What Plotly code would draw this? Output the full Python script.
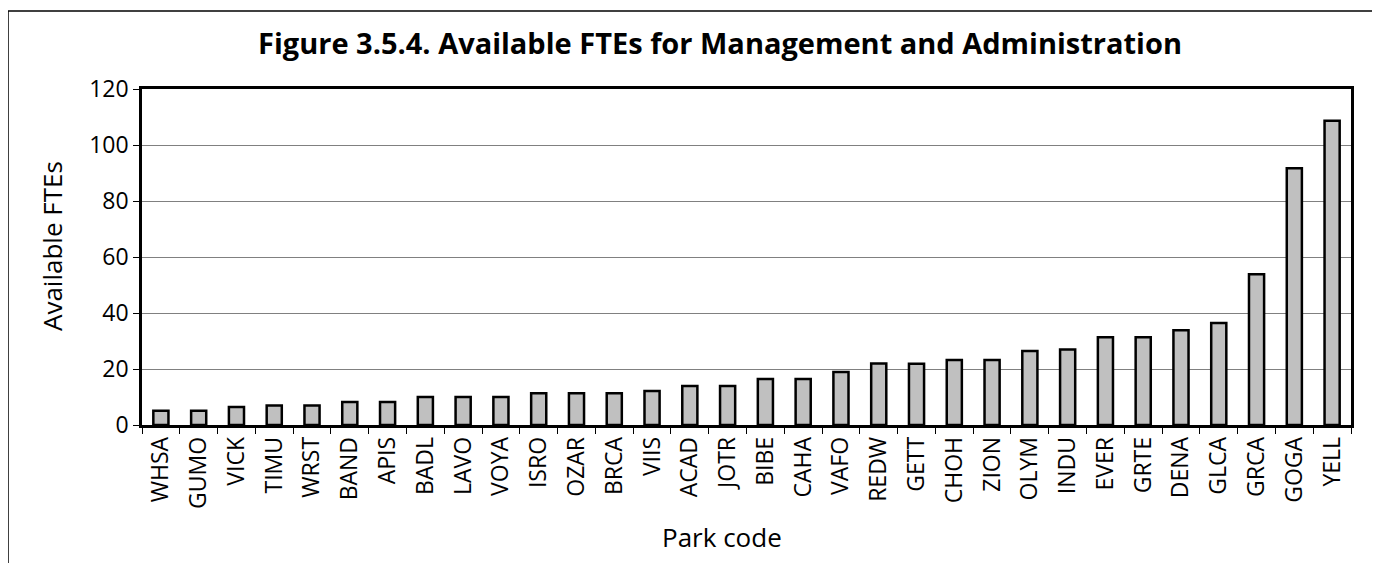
import plotly.graph_objects as go

parks = ['WHSA', 'GUMO', 'VICK', 'TIMU', 'WRST', 'BAND', 'APIS', 'BADL', 'LAVO', 'VOYA',
         'ISRO', 'OZAR', 'BRCA', 'VIIS', 'ACAD', 'JOTR', 'BIBE', 'CAHA', 'VAFO', 'REDW',
         'GETT', 'CHOH', 'ZION', 'OLYM', 'INDU', 'EVER', 'GRTE', 'DENA', 'GLCA', 'GRCA',
         'GOGA', 'YELL']
ftes = [5.1, 5.1, 6.4, 7.0, 7.0, 8.2, 8.2, 10.0, 10.0, 10.0,
        11.3, 11.3, 11.3, 12.1, 13.9, 13.9, 16.4, 16.4, 18.9, 22.0,
        21.9, 23.2, 23.2, 26.4, 27.0, 31.3, 31.3, 33.8, 36.4, 53.8,
        91.7, 108.7]
y_ticks = [0, 20, 40, 60, 80, 100, 120]

# page has an 8px body margin, so the figure sits at (8, 8) in the window
OFF = 8
W, H = 1380 - OFF, 563 - OFF
L, R, T, B = 142 - OFF, 1351 - OFF, 89 - OFF, 425 - OFF


def px_x(x):
    return (x - OFF - L) / (R - L)


def px_y(y):
    return (B - (y - OFF)) / (B - T)


fig = go.Figure()
fig.add_trace(go.Bar(x=parks, y=ftes, width=0.4,
                     marker=dict(color='#c0c0c0', line=dict(color='black', width=2.5))))

font = 'Open Sans, Noto Sans, sans-serif'
fig.update_layout(
    width=W, height=H,
    margin=dict(l=L, r=W - R, t=T, b=H - B),
    paper_bgcolor='white', plot_bgcolor='white',
    showlegend=False,
    font=dict(family=font, size=22, color='black'),
)
fig.update_xaxes(showline=True, linecolor='black', linewidth=2.5, mirror=True,
                 ticks='outside', tickson='boundaries', ticklen=6, tickcolor='black',
                 tickangle=-90, tickfont=dict(size=23), showgrid=False)
fig.update_yaxes(range=[0, 120], tickvals=y_ticks, showline=True, linecolor='black',
                 linewidth=2.5, mirror=True, ticks='outside', ticklen=6, tickcolor='black',
                 showgrid=True, gridcolor='#808080', gridwidth=1, zeroline=False,
                 tickfont=dict(size=23))

fig.add_annotation(text='<b>Figure 3.5.4. Available FTEs for Management and Administration</b>',
                   xref='paper', yref='paper', x=px_x(720), y=px_y(42),
                   showarrow=False, font=dict(size=29), xanchor='center', yanchor='middle')
fig.add_annotation(text='Available FTEs', xref='paper', yref='paper',
                   x=px_x(52), y=px_y(246), textangle=-90, showarrow=False,
                   font=dict(size=26), xanchor='center', yanchor='middle')
fig.add_annotation(text='Park code', xref='paper', yref='paper',
                   x=px_x(722), y=px_y(537), showarrow=False,
                   font=dict(size=26), xanchor='center', yanchor='middle')

# outer frame: top and left edges
fig.add_shape(type='line', xref='paper', yref='paper', x0=px_x(8), x1=px_x(1380),
              y0=px_y(11), y1=px_y(11), line=dict(color='black', width=1.5))
fig.add_shape(type='line', xref='paper', yref='paper', x0=px_x(8), x1=px_x(8),
              y0=px_y(11), y1=px_y(563), line=dict(color='black', width=1.5))

fig.write_html("out.html")
